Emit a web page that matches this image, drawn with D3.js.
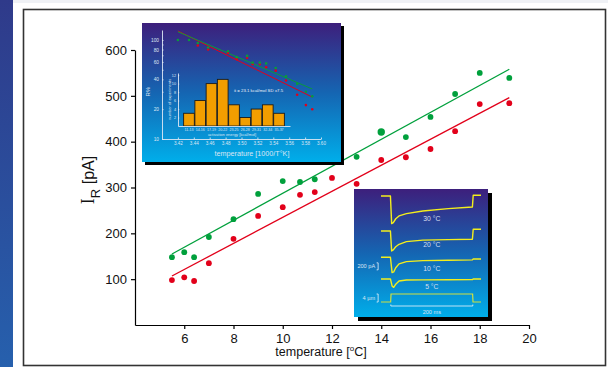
<!DOCTYPE html>
<html>
<head>
<meta charset="utf-8">
<script src="https://cdn.jsdelivr.net/npm/d3@7"></script>
<style>
  body { margin: 0; background: #fff; }
  svg { display: block; font-family: "Liberation Sans", Arial, sans-serif; }
  .main .tick line, .main .domain { stroke: #000; stroke-width: 1.2px; }
  .main .tick text { font-size: 13px; fill: #111; }
  .ins .domain, .ins .tick line { stroke: #dce6f4; stroke-width: 0.9px; }
  .ins .tick text { fill: #dce6f4; }
</style>
</head>
<body>
<div id="chart"></div>
<script>
// ---- main plot data (temperature in °C, current in pA)
var tempGreen = [5.5, 6, 6.4, 7, 8, 9, 10, 10.7, 11.3, 12, 13, 14, 15, 16, 17, 18, 19.2];
var irGreen   = [148, 159, 148, 192, 231, 286, 314, 312, 318, 373, 367, 421, 410, 454, 504, 550, 539];
var tempRed   = [5.5, 6, 6.4, 7, 8, 9, 10, 10.7, 11.3, 12, 13, 14, 15, 16, 17, 18, 19.2];
var irRed     = [98, 104, 96, 135, 188, 238, 257, 284, 290, 321, 308, 360, 366, 384, 423, 482, 484];
var fitGreen  = [[5.5, 155], [19.2, 558]];
var fitRed    = [[5.5, 107], [19.2, 496]];
var xTicks = [6, 8, 10, 12, 14, 16, 18, 20];
var yTicks = [100, 200, 300, 400, 500, 600];

// ---- inset 1: Arrhenius plot (1000/T, R%)
var invTGreen = [3.420, 3.434, 3.445, 3.458, 3.483, 3.494, 3.507, 3.514, 3.523, 3.531, 3.543, 3.556, 3.570, 3.581, 3.589];
var rGreen    = [100, 100, 93, 84, 77, 67, 69, 59, 59, 58, 52, 43, 36, 30, 27];
var invTRed   = [3.445, 3.458, 3.483, 3.494, 3.507, 3.514, 3.523, 3.531, 3.543, 3.556, 3.570, 3.581, 3.589];
var rRed      = [88, 80, 74, 64, 66, 57, 57, 53, 49, 39, 28, 22, 20];
var arrFitGreen = [[3.42, 121], [3.589, 32]];
var arrFitRed   = [[3.42, 123], [3.589, 26.5]];
var invTTicks = [3.42, 3.44, 3.46, 3.48, 3.50, 3.52, 3.54, 3.56, 3.58, 3.60];
var rTicks = [10, 20, 30, 40, 50, 60, 70, 80, 90, 100];
var rLabels = [10, 20, 40, 60, 80, 100];

// ---- inset 1: histogram of activation energies
var energyBins = ["11-13", "14-16", "17-19", "20-22", "23-25", "26-28", "29-31", "32-34", "35-37"];
var binCounts  = [3, 6, 10, 11, 5, 2, 4, 5, 3];
var countTicks = [2, 4, 6, 8, 10, 12];

// ---- inset 2: current traces (time ms, current pA relative to baseline)
var traceNames = ["30 °C", "20 °C", "10 °C", "5 °C"];
var traceBase  = [3400, 2400, 1650, 1030];
var trace30 = [[-24,0],[-1,0],[2,-790],[6,-760],[12,-650],[20,-570],[38,-505],[78,-430],[140,-360],[199,-315],[201,20],[220,20]];
var trace20 = [[-24,0],[-1,0],[2,-570],[6,-540],[12,-450],[20,-380],[38,-305],[78,-260],[140,-245],[199,-237],[201,50],[220,50]];
var trace10 = [[-24,0],[-1,0],[3,-440],[7,-420],[12,-300],[20,-190],[38,-125],[78,-95],[140,-85],[199,-75],[201,-50],[220,-50]];
var trace5  = [[-24,0],[-1,0],[3,-200],[7,-240],[12,-150],[20,-60],[38,-30],[78,-25],[140,-22],[199,-20],[201,0],[220,0]];
var stepTrace = [[-24,0],[-0.5,0],[0.5,1],[199.5,1],[200.5,0],[220,0]];
var paBar = [1290, 1490];

var W = 608, H = 367;
var svg = d3.select("#chart").append("svg").attr("width", W).attr("height", H);
var defs = svg.append("defs");

var sg = defs.append("linearGradient").attr("id", "strip").attr("x1", 0).attr("y1", 0).attr("x2", 0).attr("y2", 1);
sg.append("stop").attr("offset", "0%").attr("stop-color", "#2f3a8a");
sg.append("stop").attr("offset", "100%").attr("stop-color", "#2660ad");

var ig = defs.append("linearGradient").attr("id", "inset").attr("x1", 0).attr("y1", 0).attr("x2", 0).attr("y2", 1);
ig.append("stop").attr("offset", "0%").attr("stop-color", "#3d1f7c");
ig.append("stop").attr("offset", "50%").attr("stop-color", "#1565b2");
ig.append("stop").attr("offset", "100%").attr("stop-color", "#00aeea");

// page decoration
svg.append("rect").attr("x", 13).attr("y", 0).attr("width", W - 13).attr("height", 3).attr("fill", "#eff1f5");
svg.append("rect").attr("x", 0).attr("y", 0).attr("width", 13).attr("height", H).attr("fill", "url(#strip)");
svg.append("rect").attr("x", 23.5).attr("y", 9.5).attr("width", 582).attr("height", 356)
  .attr("fill", "#fff").attr("stroke", "#333").attr("stroke-width", 1.6);

// ---- main scales + axes
var x = d3.scaleLinear().domain([4, 20]).range([135, 529]);
var y = d3.scaleLinear().domain([0, 600]).range([325, 50]);

var main = svg.append("g").attr("class", "main");
main.append("g").attr("transform", "translate(0," + y(0) + ")")
  .call(d3.axisBottom(x).tickValues(xTicks).tickSize(4).tickPadding(5).tickSizeOuter(0));
main.append("g").attr("transform", "translate(" + x(4) + ",0)")
  .call(d3.axisLeft(y).tickValues(yTicks).tickSize(4).tickPadding(4).tickSizeOuter(0));

var xt = main.append("text").attr("x", 321).attr("y", 356).attr("text-anchor", "middle")
  .style("font-size", "12.5px").attr("fill", "#111");
xt.append("tspan").text("temperature [");
xt.append("tspan").attr("dy", -5).style("font-size", "8px").text("o");
xt.append("tspan").attr("dy", 5).text("C]");

var yt = main.append("text").attr("transform", "translate(94,180) rotate(-90)")
  .attr("text-anchor", "middle").attr("fill", "#111").style("font-size", "16px");
yt.append("tspan").style("font-family", "Liberation Serif, serif").style("font-size", "18px").text("I");
yt.append("tspan").attr("dy", 6).style("font-size", "13px").text("R");
yt.append("tspan").attr("dy", -6).text(" [pA]");

// ---- inset 1
var in1 = svg.append("g").attr("class", "ins");
in1.append("rect").attr("x", 145).attr("y", 26).attr("width", 199).attr("height", 139).attr("fill", "#000");
in1.append("rect").attr("x", 142).attr("y", 23).attr("width", 199).attr("height", 139).attr("fill", "url(#inset)");

var ax = d3.scaleLinear().domain([3.40, 3.60]).range([162, 321]);
var ay = d3.scaleLog().domain([10, 126]).range([139, 30]);

in1.append("g").attr("transform", "translate(0," + ay(10) + ")")
  .call(d3.axisBottom(ax).tickValues(invTTicks).tickFormat(d3.format(".2f")).tickSize(-1.5).tickPadding(3).tickSizeOuter(0))
  .selectAll("text").style("font-size", "4.6px");
var la = in1.append("g").attr("transform", "translate(" + ax(3.40) + ",0)")
  .call(d3.axisLeft(ay).tickValues(rTicks).tickFormat(function (d) { return rLabels.indexOf(d) >= 0 ? d : ""; })
    .tickSize(-1.5).tickPadding(3).tickSizeOuter(0));
la.selectAll("text").style("font-size", "4.8px");

in1.append("text").attr("transform", "translate(150," + ay(30) + ") rotate(-90)").attr("text-anchor", "middle")
  .attr("fill", "#dce6f4").style("font-size", "6px").text("R%");
in1.append("text").attr("x", 252).attr("y", 156).attr("text-anchor", "middle")
  .attr("fill", "#dce6f4").style("font-size", "7.2px").text("temperature [1000/T°K]");

var aline = d3.line().x(function (d) { return ax(d[0]); }).y(function (d) { return ay(d[1]); });
in1.append("path").datum(arrFitRed).attr("d", aline).attr("stroke", "#e2001a").attr("stroke-width", 1).attr("fill", "none");
in1.append("path").datum(arrFitGreen).attr("d", aline).attr("stroke", "#0a9a3c").attr("stroke-width", 1).attr("fill", "none");
in1.selectAll(".ar").data(d3.zip(invTRed, rRed)).enter().append("circle")
  .attr("cx", function (d) { return ax(d[0]); }).attr("cy", function (d) { return ay(d[1]); })
  .attr("r", 1.3).attr("fill", "#e2001a");
in1.selectAll(".ag").data(d3.zip(invTGreen, rGreen)).enter().append("circle")
  .attr("cx", function (d) { return ax(d[0]); }).attr("cy", function (d) { return ay(d[1]); })
  .attr("r", 1.3).attr("fill", "#0a9a3c");

// histogram
var hx = d3.scaleBand().domain(energyBins).range([178, 290]).paddingInner(0.05).paddingOuter(0.5);
var hy = d3.scaleLinear().domain([0, 12.5]).range([126, 73]);
in1.selectAll(".bar").data(binCounts).enter().append("rect")
  .attr("x", function (d, i) { return hx(energyBins[i]); })
  .attr("y", function (d) { return hy(d); })
  .attr("width", hx.bandwidth()).attr("height", function (d) { return hy(0) - hy(d); })
  .attr("fill", "#f29e00").attr("stroke", "#1a1a1a").attr("stroke-width", 0.9);
in1.append("g").attr("transform", "translate(0," + hy(0) + ")")
  .call(d3.axisBottom(hx).tickSize(0).tickPadding(2.5).tickSizeOuter(0))
  .selectAll("text").style("font-size", "3.6px");
in1.append("g").attr("transform", "translate(" + hx.range()[0] + ",0)")
  .call(d3.axisLeft(hy).tickValues(countTicks).tickSize(-1.2).tickPadding(2).tickSizeOuter(0))
  .selectAll("text").style("font-size", "3.8px");
in1.append("text").attr("x", 232).attr("y", 135.5).attr("text-anchor", "middle")
  .attr("fill", "#dce6f4").style("font-size", "4px").text("activation energy [kcal/mol]");
in1.append("text").attr("transform", "translate(171," + hy(6.3) + ") rotate(-90)").attr("text-anchor", "middle")
  .attr("fill", "#dce6f4").style("font-size", "4px").text("number of experiments");
in1.append("text").attr("x", 234).attr("y", 92).attr("fill", "#eef4fb").style("font-size", "4.3px")
  .text("x\u0304 = 23.1 kcal/mol SD \u00b17.5");

// ---- inset 2
var in2 = svg.append("g").attr("class", "ins");
in2.append("rect").attr("x", 358).attr("y", 193).attr("width", 134).attr("height", 128).attr("fill", "#000");
in2.append("rect").attr("x", 354).attr("y", 189).attr("width", 134).attr("height", 128).attr("fill", "url(#inset)");

var tx = d3.scaleLinear().domain([-24, 220]).range([381, 481]);
var iy = d3.scaleLinear().domain([0, 3600]).range([315, 189]);
var sy = d3.scaleLinear().domain([0, 1]).range([302, 294]);

var traces = [trace30, trace20, trace10, trace5];
var labelDy = [25, 15.5, 14, 10.5];
traces.forEach(function (tr, k) {
  var line = d3.line().x(function (d) { return tx(d[0]); }).y(function (d) { return iy(traceBase[k] + d[1]); });
  in2.append("path").datum(tr).attr("d", line).attr("fill", "none")
    .attr("stroke", "#f4ee1c").attr("stroke-width", 1.4).attr("stroke-linejoin", "round");
  in2.append("text").attr("x", tx(100)).attr("y", iy(traceBase[k]) + labelDy[k]).attr("text-anchor", "middle")
    .attr("fill", "#d4def2").style("font-size", "6.8px").text(traceNames[k]);
});
in2.append("path").datum(stepTrace)
  .attr("d", d3.line().x(function (d) { return tx(d[0]); }).y(function (d) { return sy(d[1]); }))
  .attr("fill", "none").attr("stroke", "#cfe040").attr("stroke-width", 1.2);

// scale bars
var bx = tx(-31);
in2.append("path").attr("d", "M" + (bx - 1.5) + "," + iy(paBar[1]) + "H" + bx + "V" + iy(paBar[0]) + "H" + (bx - 1.5))
  .attr("fill", "none").attr("stroke", "#eef4fb").attr("stroke-width", 0.8);
in2.append("text").attr("x", bx - 3).attr("y", (iy(paBar[0]) + iy(paBar[1])) / 2 + 2).attr("text-anchor", "end")
  .attr("fill", "#dce6f4").style("font-size", "5.6px").text("200 pA");
in2.append("path").attr("d", "M" + (bx - 1.5) + "," + sy(1) + "H" + bx + "V" + sy(0) + "H" + (bx - 1.5))
  .attr("fill", "none").attr("stroke", "#eef4fb").attr("stroke-width", 0.8);
in2.append("text").attr("x", bx - 3).attr("y", (sy(0) + sy(1)) / 2 + 2).attr("text-anchor", "end")
  .attr("fill", "#dce6f4").style("font-size", "5.6px").text("4 µm");
in2.append("path").attr("d", "M" + tx(0) + "," + 304.5 + "V306H" + tx(200) + "V304.5")
  .attr("fill", "none").attr("stroke", "#eef4fb").attr("stroke-width", 0.8);
in2.append("text").attr("x", tx(100)).attr("y", 313.5).attr("text-anchor", "middle")
  .attr("fill", "#dce6f4").style("font-size", "5.6px").text("200 ms");

// ---- main data on top
var mline = d3.line().x(function (d) { return x(d[0]); }).y(function (d) { return y(d[1]); });
main.append("path").datum(fitGreen).attr("d", mline).attr("stroke", "#00a03c").attr("stroke-width", 1.3).attr("fill", "none");
main.append("path").datum(fitRed).attr("d", mline).attr("stroke", "#e2001a").attr("stroke-width", 1.3).attr("fill", "none");

function big(t) { return t === 12 || t === 14; }
main.selectAll(".g").data(d3.zip(tempGreen, irGreen)).enter().append("circle")
  .attr("cx", function (d) { return x(d[0]); }).attr("cy", function (d) { return y(d[1]); })
  .attr("r", function (d) { return big(d[0]) ? 3.7 : 2.9; }).attr("fill", "#00a03c");
main.selectAll(".r").data(d3.zip(tempRed, irRed)).enter().append("circle")
  .attr("cx", function (d) { return x(d[0]); }).attr("cy", function (d) { return y(d[1]); })
  .attr("r", 2.9).attr("fill", "#e2001a");
</script>
</body>
</html>
